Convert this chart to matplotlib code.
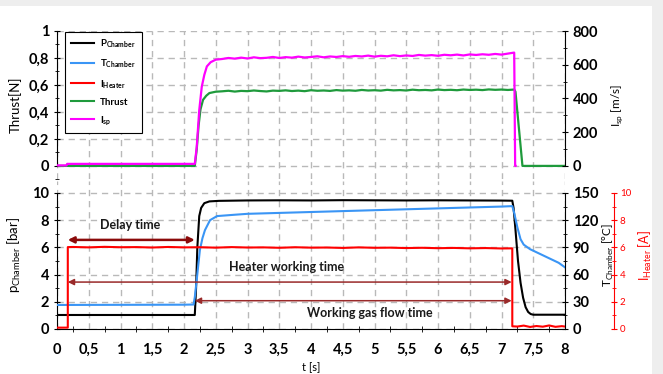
import numpy as np
import matplotlib
matplotlib.use("Agg")
import matplotlib.pyplot as plt
from matplotlib.ticker import MultipleLocator, FuncFormatter
from matplotlib.lines import Line2D
from matplotlib.patches import Rectangle

plt.rcParams['font.family'] = ['Lato', 'DejaVu Sans']
plt.rcParams['font.weight'] = 'bold'
plt.rcParams['mathtext.fontset'] = 'custom'
plt.rcParams['mathtext.rm'] = 'Lato'

# ---- data ----
# top: thrust [N] and specific impulse [m/s]
thr_t = [0, 2.17, 2.2, 2.23, 2.26, 2.3, 2.35, 2.4, 2.5]
thr_v = [0, 0, 0.12, 0.3, 0.42, 0.49, 0.52, 0.54, 0.55]
flat_t = np.round(np.arange(2.6, 7.25, 0.1), 2)
thr_flat = [0.553, 0.557, 0.551, 0.556, 0.554, 0.559, 0.555, 0.552, 0.558, 0.556,
            0.560, 0.555, 0.558, 0.554, 0.561, 0.557, 0.559, 0.556, 0.562, 0.558,
            0.560, 0.557, 0.563, 0.559, 0.561, 0.558, 0.564, 0.560, 0.562, 0.559,
            0.565, 0.561, 0.563, 0.560, 0.566, 0.562, 0.564, 0.561, 0.566, 0.563,
            0.565, 0.562, 0.567, 0.564, 0.566, 0.563, 0.566]
thr_end_t = [7.22, 7.33, 8.0]
thr_end_v = [0.55, 0, 0]

isp_t = [0, 0.15, 0.16, 2.17, 2.2, 2.24, 2.28, 2.32, 2.36, 2.42, 2.5]
isp_v = [3, 3, 12, 12, 110, 330, 470, 540, 590, 615, 630]
isp_flat = [634, 640, 636, 642, 637, 644, 639, 641, 646, 640,
            645, 642, 648, 643, 646, 650, 644, 649, 646, 651,
            647, 652, 649, 654, 648, 653, 650, 656, 651, 655,
            652, 658, 654, 657, 653, 659, 656, 660, 655, 661,
            658, 662, 659, 664, 660, 666, 672]
isp_end_t = [7.215, 7.22]
isp_end_v = [0, 0]

# bottom: chamber pressure [bar], chamber temperature [C], heater current [A]
p_t = [0, 2.17, 2.19, 2.21, 2.24, 2.27, 2.32, 2.4, 2.55, 3, 3.5, 4, 4.5, 5, 5.5, 6,
       6.5, 7, 7.17, 7.19, 7.22, 7.26, 7.3, 7.34, 7.38, 7.42, 7.46, 7.5, 8]
p_v = [1.03, 1.03, 3, 6, 8.3, 8.9, 9.25, 9.38, 9.42, 9.45, 9.46, 9.45, 9.47, 9.46, 9.45, 9.46,
       9.45, 9.44, 9.43, 8.9, 7.3, 5.0, 3.4, 2.3, 1.6, 1.25, 1.1, 1.05, 1.05]

temp_t = [0, 2.0, 2.15, 2.17, 2.2, 2.25, 2.29, 2.33, 2.41, 2.52, 2.8, 3, 3.5, 4, 4.5, 5,
          5.5, 6, 6.5, 7, 7.17, 7.2, 7.25, 7.3, 7.35, 7.45, 7.6, 7.75, 7.9, 8.0]
temp_v = [26.5, 26.8, 27, 35, 54, 87, 100, 109, 120, 124.5, 126, 127, 128, 129, 130, 131,
          132, 133, 134, 135, 135.5, 128, 112, 99, 93, 88, 83, 78, 73, 68]

cur_t = [0, 0.17, 0.17] + list(np.round(np.arange(0.25, 7.01, 0.25), 2)) + \
        [7.17, 7.17, 7.25, 7.35, 7.45, 7.55, 7.65, 7.75, 7.85, 7.95, 8.0]
cur_v = [0.1, 0.1, 6.02,
         6.03, 6.00, 6.04, 6.01, 6.02, 5.99, 6.03, 6.00, 6.01, 5.98,
         6.02, 5.99, 6.00, 5.97, 6.01, 5.98, 5.99, 5.96, 6.00, 5.97,
         5.98, 5.95, 5.97, 5.94, 5.96, 5.93, 5.95, 5.92,
         5.93, 0.2, 0.18, 0.25, 0.15, 0.22, 0.17, 0.26, 0.16, 0.21, 0.18]

# timing annotations: text, start, end, arrow level, text position
spans = [("Delay time", 0.17, 2.17, 6.55, 1.15, 7.65),
         ("Heater working time", 0.17, 7.16, 3.45, 3.62, 4.55),
         ("Working gas flow time", 2.17, 7.16, 2.08, 4.92, 1.15)]

# ---- figure ----
W, H = 663, 374
fig = plt.figure(figsize=(W / 100, H / 100), dpi=100)
fig.patch.set_facecolor('#eeeeee')
fig.add_artist(Rectangle((0, 0), 652 / W, 368 / H, transform=fig.transFigure,
                         facecolor='white', edgecolor='none', zorder=-10))

ax1 = fig.add_axes([57 / W, 1 - 179.4 / H, 508 / W, (179.4 - 31) / H])
ax2 = fig.add_axes([57 / W, 1 - 329 / H, 508 / W, (329 - 181.4) / H])
for a in (ax1, ax2):
    a.patch.set_alpha(0)

comma = FuncFormatter(lambda v, p: ('%g' % round(v, 3)).replace('.', ','))
gridkw = dict(color='#b9b9b9', ls=(0, (4.5, 3.5)), lw=1)
TS = 10.5

# top panel
ax1.plot(list(thr_t) + list(flat_t) + thr_end_t, thr_v + thr_flat + thr_end_v,
         color='#1f9a3c', lw=1.6)
ax1.set_xlim(0, 8)
ax1.set_ylim(-0.1, 1.0)
ax1.xaxis.set_major_locator(MultipleLocator(0.5))
ax1.yaxis.set_major_locator(MultipleLocator(0.2))
ax1.yaxis.set_minor_locator(MultipleLocator(0.1))
ax1.yaxis.set_major_formatter(comma)
ax1.grid(True, **gridkw)
ax1.set_axisbelow(True)
ax1.tick_params(axis='x', length=0, labelbottom=False)
ax1.tick_params(axis='y', direction='inout', length=5, width=0.8, labelsize=TS, pad=3)
ax1.tick_params(axis='y', which='minor', direction='inout', length=3, width=0.6)
for s in ('top', 'bottom', 'right'):
    ax1.spines[s].set_visible(False)
ax1.spines['left'].set_bounds(0, 1)
ax1.set_ylabel('Thrust[N]', fontsize=9.5, labelpad=5)

ax1b = ax1.twinx()
ax1b.plot(list(isp_t) + list(flat_t) + isp_end_t, isp_v + isp_flat + isp_end_v,
          color='#ff00ff', lw=1.6)
ax1b.set_ylim(-80, 800)
ax1b.yaxis.set_major_locator(MultipleLocator(200))
ax1b.yaxis.set_minor_locator(MultipleLocator(100))
ax1b.tick_params(axis='y', direction='inout', length=5, width=0.8, labelsize=TS, pad=3)
ax1b.tick_params(axis='y', which='minor', direction='inout', length=3, width=0.6)
for s in ('top', 'bottom', 'left'):
    ax1b.spines[s].set_visible(False)
ax1b.spines['right'].set_bounds(0, 800)
ax1b.set_ylabel(r'I$_{\mathregular{sp}}$ [m/s]', fontsize=8.5, fontweight='normal', labelpad=8)

# bottom panel
ax2.plot(p_t, p_v, color='black', lw=1.5)
ax2.set_xlim(0, 8)
ax2.set_ylim(0, 10.85)
ax2.xaxis.set_major_locator(MultipleLocator(0.5))
ax2.xaxis.set_minor_locator(MultipleLocator(0.25))
ax2.xaxis.set_major_formatter(comma)
ax2.yaxis.set_major_locator(MultipleLocator(2))
ax2.yaxis.set_minor_locator(MultipleLocator(1))
ax2.grid(True, **gridkw)
ax2.set_axisbelow(True)
ax2.tick_params(axis='x', direction='inout', length=0, labelsize=TS, pad=10)
ax2.tick_params(axis='x', which='minor', direction='inout', length=4, width=0.6)
ax2.tick_params(axis='y', direction='inout', length=5, width=0.8, labelsize=TS, pad=3)
ax2.tick_params(axis='y', which='minor', direction='inout', length=3, width=0.6)
for s in ('top', 'right'):
    ax2.spines[s].set_visible(False)
ax2.spines['left'].set_bounds(0, 10)
ax2.set_ylabel(r'p$_{\mathregular{Chamber}}$ [bar]', fontsize=9.5, labelpad=7)
ax2.set_xlabel('t [s]', fontsize=8, fontweight='normal', labelpad=4)

ax2b = ax2.twinx()
ax2b.plot(temp_t, temp_v, color='#3a95f5', lw=1.5)
ax2b.set_ylim(0, 10.85 * 15)
ax2b.yaxis.set_major_locator(MultipleLocator(30))
ax2b.yaxis.set_minor_locator(MultipleLocator(15))
ax2b.tick_params(axis='y', direction='inout', length=5, width=0.8, labelsize=TS, pad=3)
ax2b.tick_params(axis='y', which='minor', direction='inout', length=3, width=0.6)
for s in ('top', 'bottom', 'left'):
    ax2b.spines[s].set_visible(False)
ax2b.spines['right'].set_bounds(0, 150)
ax2b.set_ylabel(r'T$_{\mathregular{Chamber}}$ [°C]', fontsize=8.5, fontweight='normal', labelpad=2)

ax2c = ax2.twinx()
ax2c.plot(cur_t, cur_v, color='#ff0000', lw=1.5)
ax2c.set_ylim(0, 10.85)
ax2c.spines['right'].set_position(('outward', 35.5))
ax2c.spines['right'].set_color('#ff0000')
ax2c.spines['right'].set_bounds(0, 10)
for s in ('top', 'bottom', 'left'):
    ax2c.spines[s].set_visible(False)
ax2c.yaxis.set_major_locator(MultipleLocator(2))
ax2c.yaxis.set_minor_locator(MultipleLocator(1))
ax2c.tick_params(axis='y', colors='#ff0000', direction='inout', length=4, width=0.8,
                 labelsize=7, pad=2)
ax2c.tick_params(axis='y', which='minor', colors='#ff0000', direction='inout', length=2.5)
for lbl in ax2c.get_yticklabels():
    lbl.set_fontweight('normal')
ax2c.set_ylabel(r'I$_{\mathregular{Heater}}$ [A]', fontsize=9, color='#ff0000', labelpad=4)

for i, (txt, x0, x1, yl, tx, ty) in enumerate(spans):
    col = '#8b0a0a' if i == 0 else '#9a2a2a'
    lw = 1.8 if i == 0 else 1.1
    ax2c.annotate('', xy=(x1, yl), xytext=(x0, yl),
                  arrowprops=dict(arrowstyle='<|-|>', color=col, lw=lw,
                                  mutation_scale=9, shrinkA=0, shrinkB=0))
    ax2c.text(tx, ty, txt, ha='center', va='center', fontsize=9, color='#1a1a1a')

handles = [Line2D([], [], color='black', lw=1.5),
           Line2D([], [], color='#3a95f5', lw=1.5),
           Line2D([], [], color='#ff0000', lw=1.5),
           Line2D([], [], color='#1f9a3c', lw=1.5),
           Line2D([], [], color='#ff00ff', lw=1.5)]
labels = [r'P$_{\mathregular{Chamber}}$', r'T$_{\mathregular{Chamber}}$',
          r'I$_{\mathregular{Heater}}$', 'Thrust', r'I$_{\mathregular{sp}}$']
leg = ax1b.legend(handles, labels, loc='upper left', bbox_to_anchor=(0.016, 0.995),
                  borderaxespad=0, fancybox=False, edgecolor='black', framealpha=1,
                  fontsize=7, handlelength=2.4, labelspacing=0.75, borderpad=0.6,
                  handletextpad=0.6)
leg.get_frame().set_linewidth(0.8)

fig.savefig('out.png', dpi=100, facecolor=fig.get_facecolor())
